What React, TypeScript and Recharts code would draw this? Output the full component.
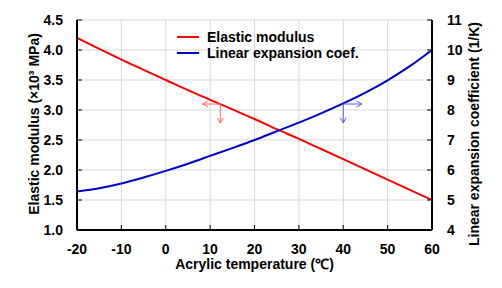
import React from 'react';
import { LineChart, Line, XAxis, YAxis, CartesianGrid, Legend, ReferenceLine, Label } from 'recharts';

const temperatures = [-20, -15, -10, -5, 0, 5, 10, 15, 20, 25, 30, 35, 40, 45, 50, 55, 60];
const elasticModulus = [4.2, 4.02, 3.84, 3.67, 3.5, 3.33, 3.17, 3.01, 2.85, 2.68, 2.52, 2.35, 2.18, 2.01, 1.84, 1.67, 1.5];
const linearExpansion = [5.28, 5.39, 5.55, 5.75, 5.97, 6.21, 6.47, 6.73, 7.0, 7.29, 7.58, 7.89, 8.22, 8.58, 8.99, 9.46, 10.0];
const xTicks = [-20, -10, 0, 10, 20, 30, 40, 50, 60];
const leftTicks = [1.0, 1.5, 2.0, 2.5, 3.0, 3.5, 4.0, 4.5];
const rightTicks = [4, 5, 6, 7, 8, 9, 10, 11];
const seriesNames = ['Elastic modulus', 'Linear expansion coef.'];
const xAxisTitle = 'Acrylic temperature (℃)';
const leftAxisTitle = 'Elastic modulus (×10³ MPa)';
const rightAxisTitle = 'Linear expansion coefficient (1/K)';

// annotation arrows (data coordinates)
const modulusArrowStart = [12.3, 3.1];
const modulusArrowLeftEnd = [8.3, 3.1];
const modulusArrowDownEnd = [12.3, 2.78];
const expansionArrowStart = [40, 8.2];
const expansionArrowRightEnd = [44.2, 8.2];
const expansionArrowDownEnd = [40, 7.57];

const data = temperatures.map((t, i) => ({
  temp: t,
  modulus: elasticModulus[i],
  expansion: linearExpansion[i],
}));

const FONT = '"Liberation Sans", Arial, sans-serif';
const RED = '#ff0000';
const BLUE = '#0000cc';
const tickStyle = { fill: '#000', fontSize: 14, fontWeight: 'bold', fontFamily: FONT };

const makeArrow = (color: string) => (props: any) => {
  const { x1, y1, x2, y2 } = props;
  const ang = Math.atan2(y2 - y1, x2 - x1);
  const len = 6;
  const spread = 0.5;
  const ax = x2 - len * Math.cos(ang - spread);
  const ay = y2 - len * Math.sin(ang - spread);
  const bx = x2 - len * Math.cos(ang + spread);
  const by = y2 - len * Math.sin(ang + spread);
  return (
    <g>
      <line x1={x1} y1={y1} x2={x2} y2={y2} stroke={color} strokeWidth={1} />
      <polyline points={`${ax},${ay} ${x2},${y2} ${bx},${by}`} fill="none" stroke={color} strokeWidth={1} />
    </g>
  );
};

const renderLegend = (props: any) => {
  const payload = props.payload || [];
  return (
    <div style={{ fontFamily: FONT, fontWeight: 'bold', fontSize: 14, color: '#000' }}>
      {payload.map((p: any, i: number) => (
        <div key={i} style={{ display: 'flex', alignItems: 'center', height: 16, whiteSpace: 'nowrap' }}>
          <span style={{ display: 'inline-block', width: 22, height: 2, background: p.color, marginRight: 8 }} />
          <span>{p.value}</span>
        </div>
      ))}
    </div>
  );
};

export default function App() {
  return (
    <div style={{ position: 'absolute', left: 0, top: 0, background: '#fff' }}>
      <LineChart width={502} height={288} data={data} margin={{ top: 20, right: 0, bottom: 0, left: 0 }}>
        <CartesianGrid stroke="#d9d9d9" strokeWidth={1} yAxisId="left" />
        <XAxis
          dataKey="temp"
          type="number"
          domain={[-20, 60]}
          ticks={xTicks}
          height={58}
          tickSize={-5}
          tickMargin={19}
          tick={tickStyle}
          axisLine={{ stroke: '#000', strokeWidth: 2 }}
          tickLine={{ stroke: '#000' }}
          allowDataOverflow
        >
          <Label
            content={(p: any) => {
              const vb = p.viewBox;
              return (
                <text x={vb.x + vb.width / 2} y={vb.y + 39} textAnchor="middle" style={tickStyle as any}>
                  {xAxisTitle}
                </text>
              );
            }}
          />
        </XAxis>
        <XAxis
          xAxisId="top"
          orientation="top"
          type="number"
          domain={[-20, 60]}
          height={0}
          tick={false}
          tickLine={false}
          axisLine={{ stroke: '#000', strokeWidth: 2 }}
        />
        <YAxis
          yAxisId="left"
          type="number"
          domain={[1, 4.5]}
          ticks={leftTicks}
          width={77}
          tickSize={-5}
          tickMargin={19}
          tick={tickStyle}
          tickFormatter={(v: number) => v.toFixed(1)}
          axisLine={{ stroke: '#000', strokeWidth: 2 }}
          tickLine={{ stroke: '#000' }}
          allowDataOverflow
        >
          <Label
            content={(p: any) => {
              const vb = p.viewBox;
              const cx = vb.x + 34;
              const cy = vb.y + 104;
              return (
                <text x={cx} y={cy} textAnchor="middle" dominantBaseline="central" transform={`rotate(-90 ${cx} ${cy})`} style={tickStyle as any}>
                  {leftAxisTitle}
                </text>
              );
            }}
          />
        </YAxis>
        <YAxis
          yAxisId="right"
          orientation="right"
          type="number"
          domain={[4, 11]}
          ticks={rightTicks}
          width={70}
          tickSize={-5}
          tickMargin={20}
          tick={tickStyle}
          axisLine={{ stroke: '#000', strokeWidth: 2 }}
          tickLine={{ stroke: '#000' }}
          allowDataOverflow
        >
          <Label
            content={(p: any) => {
              const vb = p.viewBox;
              const cx = vb.x + 42;
              const cy = vb.y + 114;
              return (
                <text x={cx} y={cy} textAnchor="middle" dominantBaseline="central" transform={`rotate(-90 ${cx} ${cy})`} style={tickStyle as any}>
                  {rightAxisTitle}
                </text>
              );
            }}
          />
        </YAxis>
        <Legend
          layout="vertical"
          align="center"
          verticalAlign="middle"
          content={renderLegend}
          wrapperStyle={{ left: 177, top: 29, width: 'auto' }}
        />
        <Line
          yAxisId="left"
          type="monotone"
          dataKey="modulus"
          name={seriesNames[0]}
          stroke={RED}
          strokeWidth={2}
          dot={false}
          isAnimationActive={false}
        />
        <Line
          yAxisId="right"
          type="monotone"
          dataKey="expansion"
          name={seriesNames[1]}
          stroke={BLUE}
          strokeWidth={2}
          dot={false}
          isAnimationActive={false}
        />
        <ReferenceLine
          yAxisId="left"
          segment={[
            { x: modulusArrowStart[0], y: modulusArrowStart[1] },
            { x: modulusArrowLeftEnd[0], y: modulusArrowLeftEnd[1] },
          ]}
          shape={makeArrow('#ff6b6b')}
        />
        <ReferenceLine
          yAxisId="left"
          segment={[
            { x: modulusArrowStart[0], y: modulusArrowStart[1] },
            { x: modulusArrowDownEnd[0], y: modulusArrowDownEnd[1] },
          ]}
          shape={makeArrow('#ff6b6b')}
        />
        <ReferenceLine
          yAxisId="right"
          segment={[
            { x: expansionArrowStart[0], y: expansionArrowStart[1] },
            { x: expansionArrowRightEnd[0], y: expansionArrowRightEnd[1] },
          ]}
          shape={makeArrow('#5a5aff')}
        />
        <ReferenceLine
          yAxisId="right"
          segment={[
            { x: expansionArrowStart[0], y: expansionArrowStart[1] },
            { x: expansionArrowDownEnd[0], y: expansionArrowDownEnd[1] },
          ]}
          shape={makeArrow('#5a5aff')}
        />
      </LineChart>
    </div>
  );
}
